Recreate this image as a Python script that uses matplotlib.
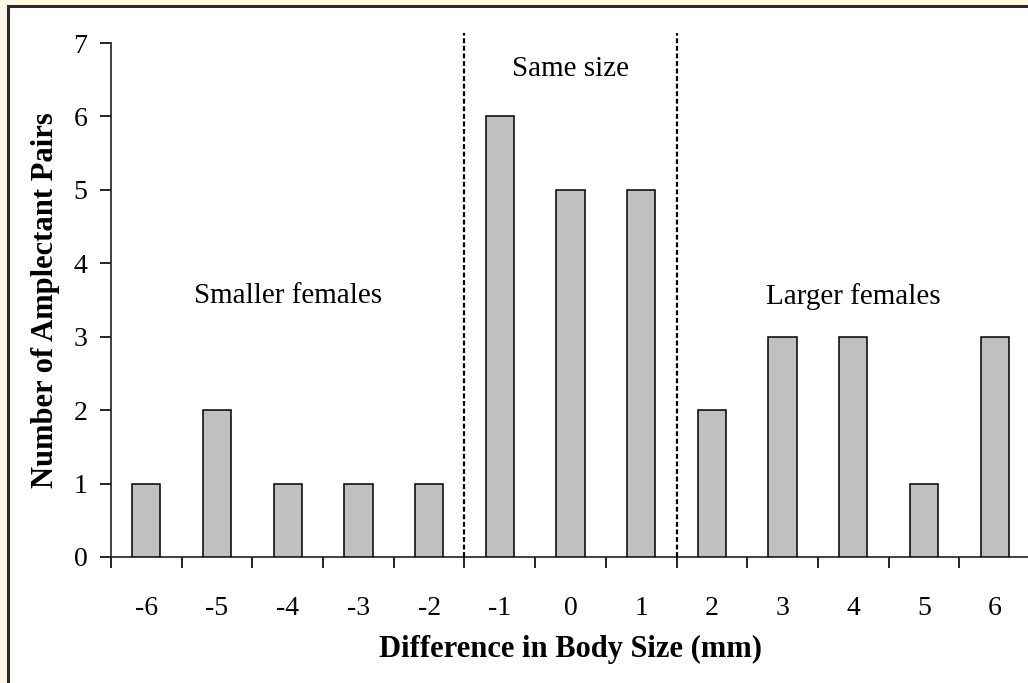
import matplotlib
matplotlib.use("Agg")
import matplotlib.pyplot as plt
from matplotlib.patches import Rectangle

# data
size_diff = [-6, -5, -4, -3, -2, -1, 0, 1, 2, 3, 4, 5, 6]
pairs = [1, 2, 1, 1, 1, 6, 5, 5, 2, 3, 3, 1, 3]
group_edges = [-1.5, 1.5]
group_labels = ["Smaller females", "Same size", "Larger females"]
group_pos = [(-4, 3.55), (0, 6.65), (4, 3.55)]

plt.rcParams['font.family'] = ['Liberation Serif', 'DejaVu Serif']

fig = plt.figure(figsize=(10.28, 6.83), dpi=100)
fig.patch.set_facecolor('#FDF7E6')
# white panel with a dark frame (only top and left edges visible)
fig.patches.append(Rectangle((7.5/1028, -0.1), 1.2, (683-6)/683 + 0.1,
                             transform=fig.transFigure, facecolor='white',
                             edgecolor='#2b2b2b', linewidth=2.2, zorder=-5))

ax = fig.add_axes([111/1028, 1-557/683, (1030-111)/1028, (557-43)/683])
ax.set_facecolor('none')

ax.bar(size_diff, pairs, width=0.4, color='#C0C0C0', edgecolor='black',
       linewidth=1.1, zorder=3)

for xe in group_edges:
    ax.plot([xe, xe], [0, 7.14], color='black', linestyle=(0, (2.2, 1.2)),
            linewidth=1.6, clip_on=False, zorder=4)

for lab, (tx, ty) in zip(group_labels, group_pos):
    ax.text(tx, ty, lab, ha='center', va='center', fontsize=21)

ax.set_xlim(-6.5, 6.5)
ax.set_ylim(0, 7)
ax.set_yticks(range(8))
ax.tick_params(axis='y', direction='out', length=8, width=1.2, labelsize=20, pad=9)

# ticks at category boundaries, labels at centres
ax.set_xticks([x - 0.5 for x in size_diff] + [6.5])
ax.set_xticklabels([])
ax.set_xticks(size_diff, minor=True)
ax.set_xticklabels([str(v) for v in size_diff], minor=True)
ax.tick_params(axis='x', which='major', direction='out', length=8, width=1.2)
ax.tick_params(axis='x', which='minor', length=0, labelsize=20, pad=28)

for s in ['top', 'right']:
    ax.spines[s].set_visible(False)
for s in ['left', 'bottom']:
    ax.spines[s].set_linewidth(1.2)
    ax.spines[s].set_color('#222222')

ax.set_xlabel('Difference in Body Size (mm)', fontsize=22, fontweight='bold', labelpad=10)
ax.set_ylabel('Number of Amplectant Pairs', fontsize=22, fontweight='bold', labelpad=10)

fig.savefig('out.png', dpi=100, facecolor=fig.get_facecolor())
